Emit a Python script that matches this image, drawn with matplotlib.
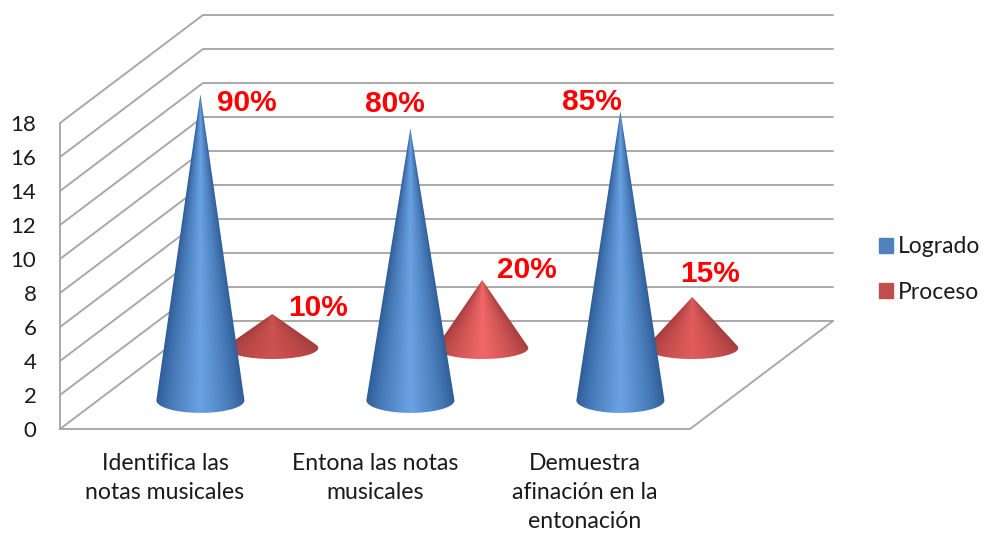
import numpy as np
import matplotlib
matplotlib.use("Agg")
import matplotlib.pyplot as plt
from matplotlib.patches import Patch, PathPatch
from matplotlib.path import Path
from matplotlib.colors import to_rgb

categories = ["Identifica las\nnotas musicales", "Entona las notas\nmusicales", "Demuestra\nafinación en la\nentonación"]
logrado = [18, 16, 17]
proceso = [2, 4, 3]
logrado_labels = ["90%", "80%", "85%"]
proceso_labels = ["10%", "20%", "15%"]
yticks = list(range(0, 20, 2))

W, H = 984, 533
PX_X, PX_Y = 210.0, 17.0          # pixels per category / per value unit
DX, DY = 143 / PX_X, 108 / PX_Y   # floor depth in data units
GRID = "#a6a6a6"
TEXT = "#1a1a1a"
FONT = "Lato"

fig = plt.figure(figsize=(W / 100, H / 100), dpi=100, facecolor="white")
ax = fig.add_axes([60 / W, (H - 429) / H, 630 / W, 306 / H])
ax.patch.set_alpha(0)
for s in ax.spines.values():
    s.set_visible(False)

line = dict(color=GRID, lw=1.35, clip_on=False, zorder=1, solid_capstyle="round")
for v in yticks:
    ax.plot([0, DX, 3 + DX], [v, v + DY, v + DY], **line)
ax.plot([0, 0], [0, 18], **line)
ax.plot([0, 3, 3 + DX], [0, 0, DY], **line)


def cone(cx, depth, value, rx_px, ry_px, edge, centre, z, shift_px=0):
    x0 = cx + depth * DX + shift_px / PX_X
    y0 = depth * DY
    rx, ry = rx_px / PX_X, ry_px / PX_Y
    t0 = np.arcsin(ry / value)
    t = np.linspace(t0, -np.pi - t0, 90)
    verts = [(x0, y0 + value)] + list(zip(x0 + rx * np.cos(t), y0 + ry * np.sin(t))) + [(x0, y0 + value)]
    clip = PathPatch(Path(verts), transform=ax.transData, fc="none", ec="none")
    ax.add_patch(clip)
    clip.set_clip_on(False)
    xs = np.linspace(x0 - rx * 1.05, x0 + rx * 1.05, 120)
    ys = np.linspace(y0 - ry * 1.1, y0 + value, 300)
    X, Y = np.meshgrid(xs, ys)
    w = np.maximum(rx * (y0 + value - Y) / value, 1e-4)
    u = np.clip(np.abs(X - x0) / w, 0, 1)
    f = (1 - u) ** 0.8
    a, b = np.array(to_rgb(edge)), np.array(to_rgb(centre))
    img = a[None, None, :] + (b - a)[None, None, :] * f[..., None]
    im = ax.imshow(img, origin="lower", aspect="auto", interpolation="bilinear",
                   extent=(xs[0], xs[-1], ys[0], ys[-1]), zorder=z)
    im.set_clip_path(clip)
    im.set_clip_box(fig.bbox)
    return x0, y0 + value


label_style = dict(color="#ff0000", fontsize=21.5, fontweight="bold", family="Liberation Sans",
                   ha="center", va="center", textcoords="offset pixels",
                   annotation_clip=False, zorder=10)
proceso_offsets = [(46, 6), (45, 10), (18, 23)]
logrado_offsets = [(46, -9), (-16, 24), (-29, 9)]
proceso_centres = ["#cc5250", "#f26868", "#e25c5c"]

for i, v in enumerate(proceso):
    apex = cone(i + 0.5, 0.75, v, 46, 11, "#a43c3c", proceso_centres[i], 3)
    ax.annotate(proceso_labels[i], apex, xytext=proceso_offsets[i], **label_style)
for i, v in enumerate(logrado):
    apex = cone(i + 0.5, 0.265, v, 44, 12.5, "#2d5c96", "#6aa2e4", 4, shift_px=-2.5)
    ax.annotate(logrado_labels[i], apex, xytext=logrado_offsets[i], **label_style)

ax.set_xlim(0, 3)
ax.set_ylim(0, 18)
ax.set_yticks(yticks)
ax.set_xticks([0.5, 1.5, 2.5])
ax.set_xticklabels(categories, linespacing=1.47)
ax.tick_params(axis="both", length=0, labelcolor=TEXT)
ax.tick_params(axis="y", pad=17, labelsize=16)
ax.tick_params(axis="x", pad=17.5, labelsize=16.6)
for t in ax.get_xticklabels() + ax.get_yticklabels():
    t.set_fontfamily(FONT)

handles = [Patch(color="#4f81bd", label="Logrado"), Patch(color="#c0504d", label="Proceso")]
ax.legend(handles=handles, loc="center left", bbox_to_anchor=(874 / W, (H - 269.5) / H),
          bbox_transform=fig.transFigure, frameon=False, prop={"family": FONT, "size": 16.5},
          labelcolor=TEXT, handlelength=0.61, handleheight=0.61, handletextpad=0.25,
          labelspacing=1.05, borderpad=0.2, borderaxespad=0)

fig.savefig("out.png", dpi=100)
